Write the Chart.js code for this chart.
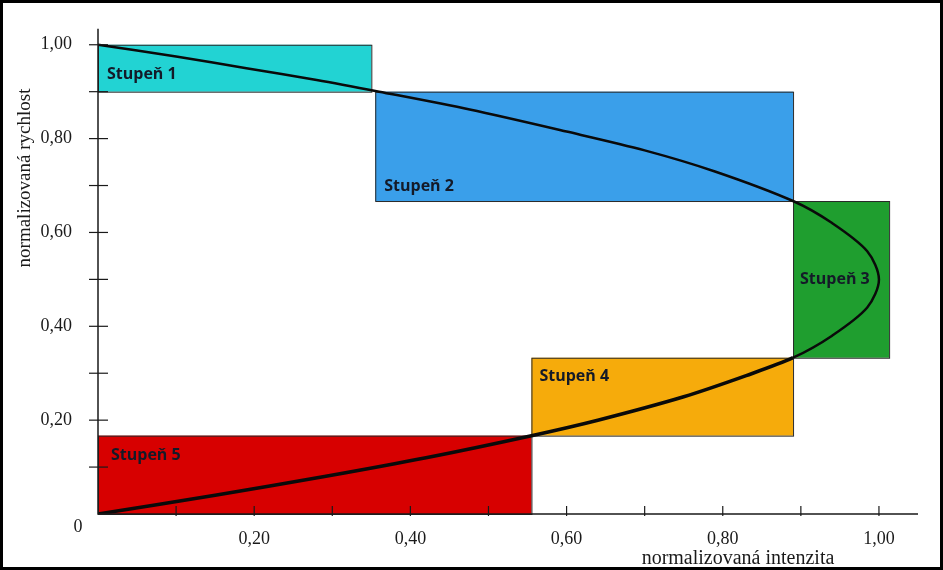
<!DOCTYPE html>
<html>
<head>
<meta charset="utf-8">
<script src="https://cdn.jsdelivr.net/npm/chart.js@4.4.0/dist/chart.umd.min.js"></script>
<style>
  html, body { margin: 0; padding: 0; background: #fff; }
  #wrap { width: 943px; height: 570px; position: relative; }
</style>
</head>
<body>
<div id="wrap"><canvas id="speedChart" width="943" height="570"></canvas></div>
<script>
// Stages (rectangles): intensity range x speed range
const stageNames = ['Stupeň 1', 'Stupeň 2', 'Stupeň 3', 'Stupeň 4', 'Stupeň 5'];
const stageIntensityFrom = [0, 0.355, 0.89, 0.555, 0];
const stageIntensityTo = [0.35, 0.89, 1.013, 0.89, 0.555];
const stageSpeedFrom = [0.9, 0.667, 0.333, 0.167, 0];
const stageSpeedTo = [1.0, 0.9, 0.667, 0.333, 0.167];

// Curve (intensity, speed)
const curveIntensity = [0.00, 0.10, 0.19, 0.28, 0.36, 0.476, 0.60, 0.70, 0.79, 0.89, 0.94, 0.985, 1.00, 0.985, 0.94, 0.89, 0.83, 0.75, 0.64, 0.555, 0.42, 0.29, 0.15, 0.00];
const curveSpeed     = [1.00, 0.975, 0.95, 0.925, 0.90, 0.862, 0.815, 0.775, 0.73, 0.667, 0.62, 0.56, 0.50, 0.44, 0.38, 0.333, 0.295, 0.25, 0.20, 0.167, 0.12, 0.08, 0.04, 0.00];

// Axis ticks
const tickValues = [0.1, 0.2, 0.3, 0.4, 0.5, 0.6, 0.7, 0.8, 0.9, 1.0];
const tickLabels = ['', '0,20', '', '0,40', '', '0,60', '', '0,80', '', '1,00'];

const stageColors = ['#22d3d3', '#3a9fea', '#1f9e2f', '#f6ab0b', '#d70000'];
// label offsets from rectangle corner: [corner, dx, dy]
const labelPlace = [['top', 9, 30], ['bottom', 9, -15], ['middle', 7, 0], ['top', 8, 19], ['top', 13, 20]];

const curvePoints = curveIntensity.map((x, i) => ({ x: x, y: curveSpeed[i] }));

const setTicks = scale => { scale.ticks = tickValues.map(v => ({ value: v })); };

const stagesPlugin = {
  id: 'stages',
  beforeDatasetsDraw(chart) {
    const { ctx, scales: { x, y } } = chart;
    ctx.save();
    stageNames.forEach((name, i) => {
      const l = x.getPixelForValue(stageIntensityFrom[i]);
      const r = x.getPixelForValue(stageIntensityTo[i]);
      const t = y.getPixelForValue(stageSpeedTo[i]);
      const b = y.getPixelForValue(stageSpeedFrom[i]);
      ctx.fillStyle = stageColors[i];
      ctx.fillRect(l, t, r - l, b - t);
      ctx.strokeStyle = '#2a2a2a';
      ctx.lineWidth = 1;
      ctx.strokeRect(l + 0.5, t + 0.5, r - l, b - t);

      const [corner, dx, dy] = labelPlace[i];
      let ly = corner === 'top' ? t + dy : corner === 'bottom' ? b + dy : (t + b) / 2 + dy;
      ctx.fillStyle = '#141a28';
      ctx.font = 'bold 16px "Open Sans", sans-serif';
      ctx.textAlign = 'left';
      ctx.textBaseline = 'middle';
      ctx.fillText(name, l + dx, ly);
    });
    ctx.restore();
  },
  afterDatasetsDraw(chart) {
    const { ctx, chartArea, scales: { x, y } } = chart;
    const x0 = x.getPixelForValue(0);
    const y0 = y.getPixelForValue(0);
    ctx.save();
    ctx.strokeStyle = '#1a1a1a';
    ctx.lineWidth = 1.5;
    ctx.beginPath();
    ctx.moveTo(x0, chartArea.top);
    ctx.lineTo(x0, y0);
    ctx.lineTo(chartArea.right, y0);
    ctx.stroke();
    ctx.lineWidth = 1.2;
    tickValues.forEach(v => {
      const py = y.getPixelForValue(v);
      ctx.beginPath();
      ctx.moveTo(x0 - 9, py);
      ctx.lineTo(x0 + 10, py);
      ctx.stroke();
      const px = x.getPixelForValue(v);
      ctx.beginPath();
      ctx.moveTo(px, y0 - 8);
      ctx.lineTo(px, y0 + 2);
      ctx.stroke();
    });
    ctx.restore();
  },
  afterDraw(chart) {
    const { ctx } = chart;
    ctx.save();
    ctx.fillStyle = '#1a1a1a';
    ctx.font = '18px "Liberation Serif", serif';
    ctx.textAlign = 'center';
    ctx.textBaseline = 'middle';
    ctx.fillText('0', 78, 527);
    ctx.font = '20px "Liberation Serif", serif';
    ctx.fillText('normalizovaná intenzita', 738, 559);
    ctx.font = '19px "Liberation Serif", serif';
    ctx.translate(25, 178);
    ctx.rotate(-Math.PI / 2);
    ctx.fillText('normalizovaná rychlost', 0, 0);
    ctx.restore();
    // frame
    ctx.save();
    ctx.strokeStyle = '#000';
    ctx.lineWidth = 3;
    ctx.strokeRect(1.5, 1.5, chart.width - 3, chart.height - 3);
    ctx.restore();
  }
};

const ctx = document.getElementById('speedChart').getContext('2d');
window.speedChart = new Chart(ctx, {
  type: 'scatter',
  data: {
    datasets: [
      {
        label: 'rychlost',
        data: curvePoints,
        showLine: true,
        borderColor: '#0a0a0a',
        borderWidth: 2.5,
        pointRadius: 0,
        tension: 0.3,
        segment: {
          borderWidth: c => c.p0.parsed.y < 0.34 && c.p0.parsed.x < 0.9 ? 3.6 : 2.5
        }
      }
    ]
  },
  options: {
    responsive: false,
    devicePixelRatio: 1,
    animation: false,
    layout: { padding: { top: 27, right: 25, left: 0, bottom: 0 } },
    plugins: {
      legend: { display: false },
      tooltip: { enabled: false }
    },
    scales: {
      x: {
        type: 'linear',
        min: 0,
        max: 1.05,
        afterFit: s => { s.height = 56; },
        afterBuildTicks: setTicks,
        grid: { display: false },
        border: { display: false },
        ticks: {
          autoSkip: false,
          maxRotation: 0,
          padding: 6,
          color: '#1a1a1a',
          font: { family: '"Liberation Serif", serif', size: 18 },
          callback: (v, i) => tickLabels[i]
        }
      },
      y: {
        type: 'linear',
        min: 0,
        max: 1.034,
        afterFit: s => { s.width = 98; },
        afterBuildTicks: setTicks,
        grid: { display: false },
        border: { display: false },
        ticks: {
          autoSkip: false,
          padding: 18,
          color: '#1a1a1a',
          font: { family: '"Liberation Serif", serif', size: 18 },
          callback: (v, i) => tickLabels[i]
        }
      }
    }
  },
  plugins: [stagesPlugin]
});
</script>
</body>
</html>
